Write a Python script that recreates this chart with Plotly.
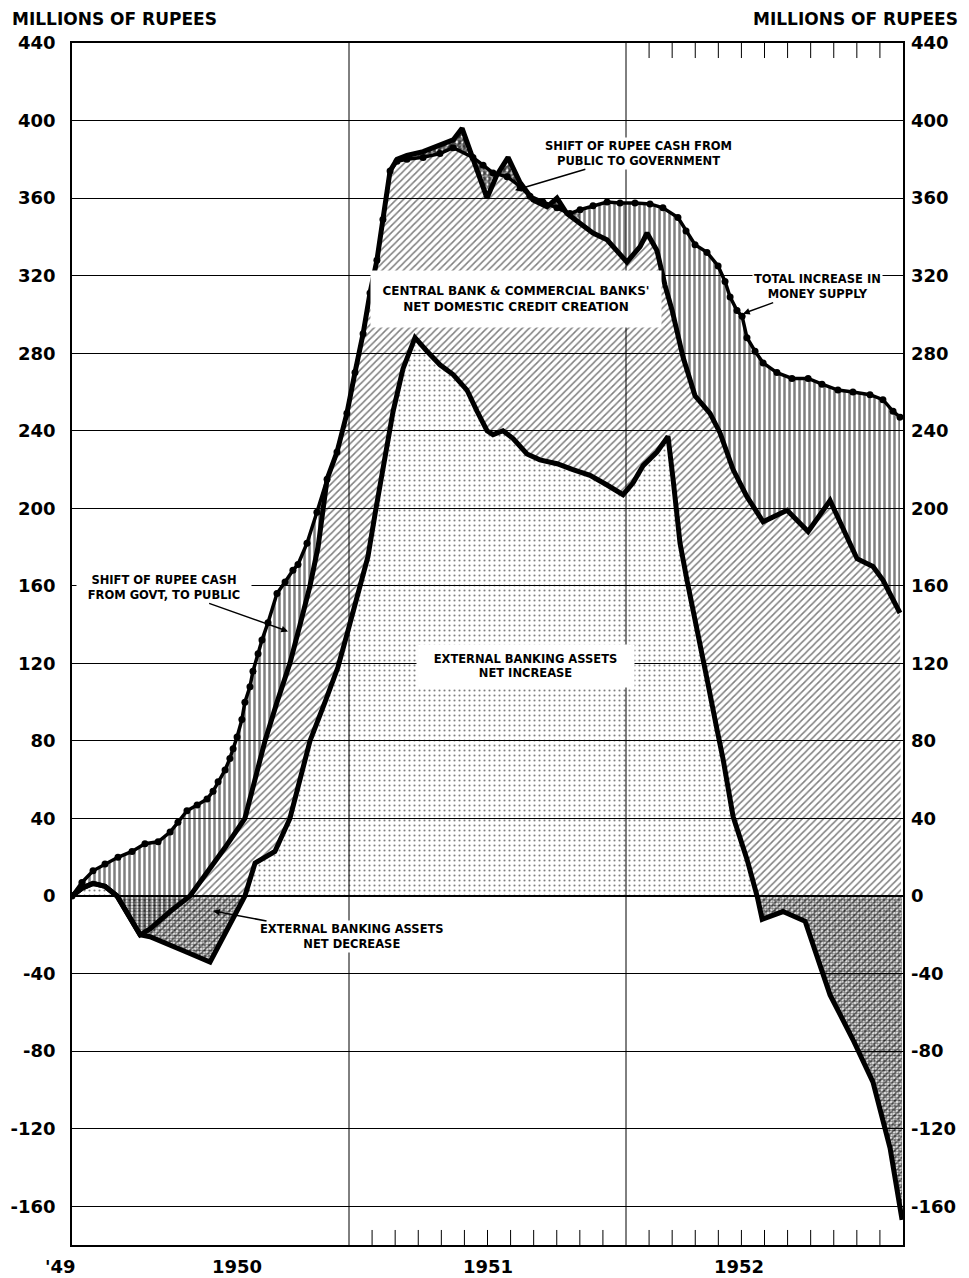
import plotly.graph_objects as go

# ---------------- data (months elapsed since end of 1949, millions of rupees) -------------
ms_month = [0.0, 0.43, 0.91, 1.43, 1.99, 2.60, 3.16, 3.73, 4.25, 4.59, 4.98, 5.42, 5.85, 6.11,
            6.33, 6.63, 6.84, 6.98, 7.15, 7.36, 7.49, 7.71, 7.84, 8.06, 8.23, 8.49, 8.88, 9.23,
            9.57, 9.79, 10.18, 10.61, 11.05, 11.48, 11.91, 12.26, 12.61, 12.91, 13.21, 13.47,
            13.78, 14.08, 14.51, 15.21, 15.94, 16.51, 17.37, 17.81, 18.24, 18.85, 19.41, 19.84,
            20.40, 21.01, 21.57, 22.01, 22.57, 23.18, 23.74, 24.39, 25.04, 25.60, 26.25, 26.60,
            26.99, 27.51, 27.99, 28.29, 28.51, 28.81, 29.03, 29.24, 29.59, 29.94, 30.54, 31.19,
            31.89, 32.49, 33.18, 33.83, 34.57, 35.13, 35.57, 35.87]
money_supply = [0, 7, 13, 16.5, 20, 23, 27, 28, 33, 38, 44, 47, 50, 54,
                59, 65, 71, 76, 82, 91, 100, 108, 116, 125, 132, 141, 156, 162,
                168, 171, 182, 198, 215, 229, 249, 270, 290, 311, 328, 349,
                374, 379, 380, 381, 383, 386, 381, 377, 373, 371, 366, 361,
                358, 355, 352, 354, 356, 358, 357.5, 357.5, 357, 355, 350, 343,
                336, 332, 325, 317, 309, 302, 299, 288, 281, 275, 270, 267,
                267, 264, 261, 260, 258.6, 256, 250, 247]

dc_month = [0.0, 0.43, 0.91, 1.43, 1.95, 2.95, 3.38, 4.25, 5.11, 5.85, 6.63, 7.49, 7.93, 8.36,
            8.88, 9.44, 9.88, 10.31, 10.66, 11.05, 11.48, 11.91, 12.26, 12.61, 12.91, 13.21,
            13.47, 13.78, 14.08, 14.51, 15.21, 15.94, 16.51, 16.90, 17.46, 17.98, 18.41, 18.89,
            19.41, 19.97, 20.58, 21.01, 21.44, 22.01, 22.57, 23.18, 23.87, 24.04, 24.61, 24.91,
            25.34, 25.69, 26.00, 26.47, 26.99, 27.64, 28.07, 28.64, 29.24, 29.94, 30.98, 31.89,
            32.84, 33.57, 34.01, 34.70, 35.13, 35.87]
credit_plus_external = [0, 4, 6.5, 5, 0, -20, -17, -8, 0, 12, 25, 40, 60, 80,
                        100, 120, 140, 160, 180, 215, 229, 249, 270, 290, 311, 328,
                        349, 374, 380, 382, 384, 387, 390, 396, 378, 360, 372, 381,
                        368, 359, 355.5, 360, 352, 347, 342, 338.5, 330, 327, 335, 342,
                        333, 315, 302, 278, 258, 249, 239, 220, 206, 193, 199, 188,
                        204, 186, 174, 170, 163, 146]

ext_month = [0.0, 0.43, 0.91, 1.43, 1.95, 2.95, 3.38, 4.03, 4.98, 5.98, 6.76, 7.49, 7.93, 8.79,
             9.44, 9.88, 10.31, 10.96, 11.52, 11.96, 12.39, 12.82, 13.17, 13.52, 13.91, 14.34,
             14.86, 15.38, 15.94, 16.51, 17.11, 17.55, 17.98, 18.24, 18.67, 19.11, 19.71, 20.27,
             21.01, 21.70, 22.44, 23.18, 23.87, 24.30, 24.74, 25.34, 25.82, 26.04, 26.34, 26.64,
             27.08, 27.51, 27.94, 28.20, 28.64, 29.24, 29.68, 29.90, 30.80, 31.76, 32.84, 33.83,
             34.70, 35.44, 35.96]
external_assets = [0, 4, 6.5, 5, 0, -20, -21, -24, -29, -34, -17, 0, 17, 23,
                   40, 60, 80, 100, 118, 137, 155, 175, 200, 224, 250, 272,
                   288, 281, 274, 269, 261, 250, 240, 238, 240, 236, 228, 225,
                   223, 220, 217, 212, 207, 213, 222, 229, 237, 215, 182, 163,
                   138, 112, 86, 71, 41, 19, 0, -12, -8, -13, -51, -74,
                   -96, -130, -167]

y_ticks = [-160, -120, -80, -40, 0, 40, 80, 120, 160, 200, 240, 280, 320, 360, 400, 440]
y_tick_text = ["-160", "-120", "-80", "-40", "0", "40", "80", "120", "160", "200", "240",
               "280", "320", "360", "400", "440"]
year_label_pos = [-1.2, 6, 18, 30]
year_labels = ["'49", "1950", "1951", "1952"]
year_bounds = [12, 24]
bottom_month_ticks = [13, 14, 15, 16, 17, 18, 19, 20, 21, 22, 23,
                      25, 26, 27, 28, 29, 30, 31, 32, 33, 34, 35]
top_month_ticks = [25, 26, 27, 28, 29, 30, 31, 32, 33, 34, 35]

X_RANGE = [0, 36]
Y_RANGE = [-180, 440]
FONT = "DejaVu Sans"

fig = go.Figure()
NOLINE = dict(width=0, color="rgba(0,0,0,0)")
CLEAR = "rgba(0,0,0,0)"

# light stipple: external banking assets area
fig.add_trace(go.Scatter(x=ext_month, y=external_assets, mode="lines", line=NOLINE,
                         fill="tozeroy", fillcolor=CLEAR,
                         fillpattern=dict(shape=".", size=5, solidity=0.14,
                                          fgcolor="black", bgcolor=CLEAR),
                         hoverinfo="skip"))

# dense stipple where external assets decreased (runs of non-positive values)
runs, cur = [], []
for mth, val in zip(ext_month, external_assets):
    if val <= 0:
        cur.append((mth, val))
    else:
        if len(cur) > 2:
            runs.append(cur)
        cur = []
if len(cur) > 2:
    runs.append(cur)
for run in runs:
    fig.add_trace(go.Scatter(x=[p[0] for p in run], y=[p[1] for p in run], mode="lines",
                             line=NOLINE, fill="tozeroy", fillcolor=CLEAR,
                             fillpattern=dict(shape=".", size=3, solidity=0.6,
                                              fgcolor="black", bgcolor=CLEAR),
                             hoverinfo="skip"))

# diagonal hatch: domestic credit creation (between E and E+D)
fig.add_trace(go.Scatter(x=ext_month, y=external_assets, mode="lines", line=NOLINE,
                         hoverinfo="skip"))
fig.add_trace(go.Scatter(x=dc_month, y=credit_plus_external, mode="lines", line=NOLINE,
                         fill="tonexty", fillcolor=CLEAR,
                         fillpattern=dict(shape="/", size=5, solidity=0.3,
                                          fgcolor="black", bgcolor=CLEAR),
                         hoverinfo="skip"))

# vertical hatch: shift of rupee cash (between E+D and money supply)
fig.add_trace(go.Scatter(x=dc_month, y=credit_plus_external, mode="lines", line=NOLINE,
                         hoverinfo="skip"))
fig.add_trace(go.Scatter(x=ms_month, y=money_supply, mode="lines", line=NOLINE,
                         fill="tonexty", fillcolor=CLEAR,
                         fillpattern=dict(shape="|", size=5, solidity=0.5,
                                          fgcolor="black", bgcolor=CLEAR),
                         hoverinfo="skip"))

# dark cross hatch where cash shifted from public to government (1951 peak)
sel_ms = [(m, v) for m, v in zip(ms_month, money_supply) if 14.0 <= m <= 22.1]
sel_dc = [(m, v) for m, v in zip(dc_month, credit_plus_external) if 14.0 <= m <= 22.1]
fig.add_trace(go.Scatter(x=[p[0] for p in sel_ms], y=[p[1] for p in sel_ms], mode="lines",
                         line=NOLINE, hoverinfo="skip"))
fig.add_trace(go.Scatter(x=[p[0] for p in sel_dc], y=[p[1] for p in sel_dc], mode="lines",
                         line=NOLINE, fill="tonexty", fillcolor=CLEAR,
                         fillpattern=dict(shape="x", size=4, solidity=0.65,
                                          fgcolor="black", bgcolor=CLEAR),
                         hoverinfo="skip"))

# heavy lines
fig.add_trace(go.Scatter(x=ext_month, y=external_assets, mode="lines",
                         line=dict(color="black", width=5), hoverinfo="skip"))
fig.add_trace(go.Scatter(x=dc_month, y=credit_plus_external, mode="lines",
                         line=dict(color="black", width=5), hoverinfo="skip"))
fig.add_trace(go.Scatter(x=ms_month, y=money_supply, mode="lines+markers",
                         line=dict(color="black", width=3.5),
                         marker=dict(color="black", size=7), hoverinfo="skip",
                         yaxis="y2"))

# year boundary lines and month ticks
for b in year_bounds:
    fig.add_shape(type="line", x0=b, x1=b, y0=0, y1=1, xref="x", yref="paper",
                  line=dict(color="black", width=1), layer="below")
for m in bottom_month_ticks:
    fig.add_shape(type="line", x0=m, x1=m, y0=0, y1=0.0125, xref="x", yref="paper",
                  line=dict(color="black", width=1))
for m in top_month_ticks:
    fig.add_shape(type="line", x0=m, x1=m, y0=1, y1=1 - 0.0125, xref="x", yref="paper",
                  line=dict(color="black", width=1))

lab_font = dict(family=FONT, size=11.5, color="black", weight="bold")
ARROW = dict(showarrow=True, arrowhead=2, arrowsize=0.9, arrowwidth=1.5, arrowcolor="black")
ann = []
ann.append(dict(x=19.19, y=364, ax=124, ay=-37, text="SHIFT OF RUPEE CASH FROM<br>PUBLIC TO GOVERNMENT",
                bgcolor="white", font=lab_font, **ARROW))
ann.append(dict(x=29.07, y=300.4, ax=74, ay=-27, text="TOTAL INCREASE IN<br>MONEY SUPPLY",
                bgcolor="white", font=lab_font, **ARROW))
ann.append(dict(x=9.36, y=136.5, ax=-124, ay=-44, text="SHIFT OF RUPEE CASH<br>FROM GOVT, TO PUBLIC",
                bgcolor="white", font=lab_font, width=172, **ARROW))
ann.append(dict(x=6.11, y=-7.7, ax=139, ay=26, text="EXTERNAL BANKING ASSETS<br>NET DECREASE",
                bgcolor="white", font=lab_font, **ARROW))
ann.append(dict(x=19.22, y=308, text="CENTRAL BANK &amp; COMMERCIAL BANKS'<br>NET DOMESTIC CREDIT CREATION",
                showarrow=False, bgcolor="white", width=288, height=54,
                font=dict(family=FONT, size=12, color="black", weight="bold")))
ann.append(dict(x=19.63, y=118.5, text="EXTERNAL BANKING ASSETS<br>NET INCREASE",
                showarrow=False, bgcolor="white", width=215, height=40, font=lab_font))
for a in ann:
    a.update(xref="x", yref="y")

title_font = dict(family=FONT, size=17, color="black", weight="bold")
ann.append(dict(x=0.0, y=1.0, xref="paper", yref="paper", xanchor="left", yanchor="bottom",
                xshift=-62, yshift=12, text="MILLIONS OF RUPEES", showarrow=False, font=title_font))
ann.append(dict(x=1.0, y=1.0, xref="paper", yref="paper", xanchor="right", yanchor="bottom",
                xshift=57, yshift=12, text="MILLIONS OF RUPEES", showarrow=False, font=title_font))
for lp, lt in zip(year_label_pos, year_labels):
    ann.append(dict(x=lp / (X_RANGE[1] - X_RANGE[0]), y=0, xref="paper", yref="paper",
                    yanchor="middle", yshift=-21, text=lt, showarrow=False, borderpad=0,
                    font=dict(family=FONT, size=18, color="black", weight="bold")))

tick_font = dict(family=FONT, size=18, color="black", weight="bold")
# the page body adds an 8 px margin, so the figure is 8 px smaller and margins compensate
fig.update_layout(
    width=961, height=1270,
    margin=dict(l=64, r=66, t=35, b=33, autoexpand=False),
    paper_bgcolor="white", plot_bgcolor="white",
    showlegend=False,
    annotations=ann,
    xaxis=dict(range=X_RANGE, showgrid=False, zeroline=False, showline=True, mirror=True,
               linecolor="black", linewidth=1.5, showticklabels=False, ticks="",
               automargin=False),
    yaxis=dict(range=Y_RANGE, tickvals=y_ticks, ticktext=y_tick_text, showgrid=True,
               gridcolor="black", gridwidth=1, zeroline=True, zerolinecolor="black",
               zerolinewidth=2, showline=True, mirror=True, linecolor="black", linewidth=1.5,
               ticks="", tickfont=tick_font, ticklabelstandoff=11, automargin=False),
    yaxis2=dict(range=Y_RANGE, tickvals=y_ticks, ticktext=y_tick_text, overlaying="y",
                side="right", showgrid=False, zeroline=False, showline=False, ticks="",
                tickfont=tick_font, ticklabelstandoff=7, automargin=False),
)

fig.write_html("out.html")
